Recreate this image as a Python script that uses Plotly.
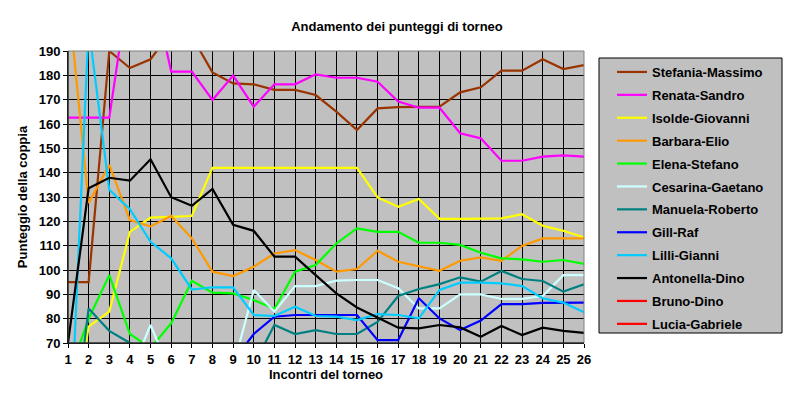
import plotly.graph_objects as go

incontri = list(range(1, 27))

names = ["Stefania-Massimo", "Renata-Sandro", "Isolde-Giovanni", "Barbara-Elio",
         "Elena-Stefano", "Cesarina-Gaetano", "Manuela-Roberto", "Gill-Raf",
         "Lilli-Gianni", "Antonella-Dino", "Bruno-Dino", "Lucia-Gabriele"]
colors = ["#993300", "#FF00FF", "#FFFF00", "#FF9900", "#00FF00", "#CCFFFF",
          "#008080", "#0000FF", "#00CCFF", "#000000", "#FF0000", "#FF0000"]

stefania_massimo = [95, 95, 190, 183, 186.6, 198, 196, 181.2, 176.7, 176.3, 174, 174, 171.9,
                    165.1, 157.5, 166.4, 166.9, 167.1, 167.1, 173, 175.1, 181.9, 181.9, 186.6, 182.6, 184.2]
renata_sandro = [162.6, 162.6, 162.6, 220, 220, 181.5, 181.5, 169.9, 179.9, 167.1, 176.3, 176.3, 180.4,
                 179, 179, 177.4, 169.2, 166.7, 166.7, 156.2, 154.1, 144.9, 144.9, 146.6, 147.1, 146.6]
isolde_giovanni = [25, 76.7, 82.9, 115.7, 121.5, 121.9, 122.2, 142, 142, 142, 142, 142, 142,
                   142, 142, 129.8, 126, 129.2, 121, 121, 121, 121.2, 122.9, 118.2, 116.1, 113.4]
barbara_elio = [213, 127.5, 143.2, 120.5, 117.9, 122.2, 113, 99.3, 97.5, 101.3, 106.8, 108.2, 104.1,
                99.3, 100.4, 107.9, 103.4, 101.6, 99.7, 103.8, 105.2, 103.8, 109.9, 113, 113, 113]
elena_stefano = [56, 80, 97.9, 73.7, 67.9, 78.1, 95.6, 90.7, 90.4, 87.7, 84, 99.3, 102,
                 110.9, 117.1, 115.7, 115.7, 111.2, 111.2, 110.3, 107.1, 104.8, 104.4, 103.4, 104.1, 102.5]
cesarina_gaetano = [50, 52, 55, 57, 77.4, 57, 58, 58, 60, 91.8, 82.9, 93.4, 93.4,
                    95.6, 95.9, 95.9, 92.5, 84.2, 84.2, 90, 90, 88.1, 88.1, 89.3, 97.9, 97.9]
manuela_roberto = [15, 84.2, 75, 70, 66, 64, 63, 62, 61, 61, 77.4, 73.7, 75.3,
                   73.7, 73.7, 78.7, 89.3, 92.2, 94.2, 97, 95.2, 99.6, 96.3, 95.5, 91.1, 94.1]
gill_raf = [60, 60, 60, 60, 60, 60, 60, 60, 62.6, 73.7, 80.8, 81.5, 81.5,
            81.5, 81.5, 71.2, 71.2, 88.4, 80.1, 75.3, 79.2, 86, 86, 86.5, 86.6, 86.6]
lilli_gianni = [10, 200, 133, 125, 111.6, 104.8, 92, 92.9, 92.9, 81.5, 81.1, 84.9, 81.1,
                80.8, 79.4, 81.9, 81.5, 80.1, 91.8, 94.8, 94.8, 94.5, 93.4, 88.4, 86.6, 82.6]
antonella_dino = [70, 133.6, 137.9, 136.7, 145.5, 129.9, 126.4, 133.3, 118.6, 116.1, 105.5, 105.5, 97.9,
                  90.4, 84.6, 80.5, 76.3, 76, 77.4, 76.4, 72.6, 77, 73.3, 76.3, 75, 74.2]
bruno_dino = [None] * 26
lucia_gabriele = [None] * 26

series = [stefania_massimo, renata_sandro, isolde_giovanni, barbara_elio, elena_stefano,
          cesarina_gaetano, manuela_roberto, gill_raf, lilli_gianni, antonella_dino,
          bruno_dino, lucia_gabriele]

y_ticks = list(range(70, 191, 10))

FONT = "Liberation Sans, Arial, sans-serif"

fig = go.Figure()
for i, (name, col, vals) in enumerate(zip(names, colors, series)):
    fig.add_trace(go.Scatter(
        x=incontri, y=vals, name=name, mode="lines",
        line=dict(color=col, width=2.2),
        legendgroup=f"g{i}",
    ))

fig.update_layout(
    width=796, height=393,
    margin=dict(l=68, r=212, t=51, b=50),
    paper_bgcolor="white",
    plot_bgcolor="#C0C0C0",
    font=dict(family=FONT, size=13, color="black", weight="bold"),
    title=dict(text="Andamento dei punteggi di torneo", x=(397 / 796), xanchor="center",
               y=1 - 26 / 393, yanchor="middle",
               font=dict(family=FONT, size=13, color="black", weight="bold")),
    xaxis=dict(range=[1, 26], tickmode="array", tickvals=incontri,
               showgrid=True, gridcolor="black", gridwidth=1,
               showline=True, linecolor="black", linewidth=1,
               ticks="outside", ticklen=4, tickcolor="black",
               zeroline=False, fixedrange=True,
               title=dict(text="Incontri del torneo", standoff=4,
                          font=dict(family=FONT, size=13, weight="bold")),
               tickfont=dict(family=FONT, size=13, weight="bold")),
    yaxis=dict(range=[70, 190], tickmode="array", tickvals=y_ticks,
               showgrid=True, gridcolor="black", gridwidth=1,
               showline=True, linecolor="black", linewidth=1,
               ticks="outside", ticklen=4, tickcolor="black",
               zeroline=False, fixedrange=True,
               title=dict(text="Punteggio della coppia", standoff=8,
                          font=dict(family=FONT, size=13, weight="bold")),
               tickfont=dict(family=FONT, size=13, weight="bold")),
    legend=dict(x=(612 - 68) / 516, xanchor="left",
                y=(343 - 57) / 292, yanchor="top",
                bgcolor="rgba(0,0,0,0)", borderwidth=0,
                tracegroupgap=3, itemwidth=30, maxheight=380,
                font=dict(family=FONT, size=13, color="black", weight="bold")),
    showlegend=True,
)

# plot area border (gray top/right) and legend box
fig.add_shape(type="rect", xref="paper", yref="paper", x0=0, x1=1, y0=0, y1=1,
              line=dict(color="#808080", width=1), fillcolor="rgba(0,0,0,0)", layer="above")
fig.add_shape(type="line", xref="paper", yref="paper", x0=0, x1=0, y0=0, y1=1,
              line=dict(color="black", width=1), layer="above")
fig.add_shape(type="line", xref="paper", yref="paper", x0=0, x1=1, y0=0, y1=0,
              line=dict(color="black", width=1), layer="above")
fig.add_shape(type="rect", xref="paper", yref="paper",
              x0=(599 - 68) / 516, x1=(782 - 68) / 516,
              y0=(343 - 333) / 292, y1=(343 - 58) / 292,
              line=dict(color="black", width=1), fillcolor="#C0C0C0", layer="below")

fig.write_html("out.html", config={"displayModeBar": False},
               post_script="document.body.style.margin='0px';")
